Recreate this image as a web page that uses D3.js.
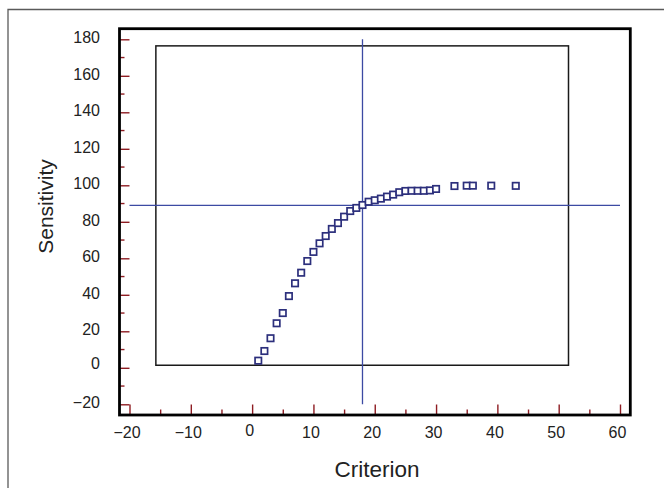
<!DOCTYPE html>
<html>
<head>
<meta charset="utf-8">
<script src="https://cdn.jsdelivr.net/npm/d3@7"></script>
<style>
  html, body { margin: 0; padding: 0; background: #fff; }
  svg { display: block; }
  text { font-family: "Liberation Sans", Arial, Helvetica, sans-serif; fill: #222; }
</style>
</head>
<body>
<svg id="chart" width="664" height="488"></svg>
<script>
// ---- data ----
const criterion = [1, 2, 3, 4, 5, 6, 7, 8, 9, 10, 11, 12, 13, 14, 15, 16, 17, 18, 19, 20,
                   21, 22, 23, 24, 25, 26, 27, 28, 29, 30, 33, 35, 36, 39, 43];
const sensitivity = [3.9, 9.2, 16.2, 24.4, 30.0, 39.3, 46.3, 52.1, 58.5, 63.5, 68.2, 72.2,
                     76.1, 79.3, 82.8, 85.9, 87.6, 89.2, 91.0, 91.8, 92.7, 93.8, 94.9, 96.2,
                     96.9, 97.0, 97.0, 97.0, 97.2, 98.0, 99.6, 99.8, 99.8, 99.8, 99.7];
const xTickValues = [-20, -10, 0, 10, 20, 30, 40, 50, 60];
const xMinorTicks = [-15, -5, 5, 15, 25, 35, 45, 55];
const yTickValues = [-20, 0, 20, 40, 60, 80, 100, 120, 140, 160, 180];
const yMinorTicks = [-10, 10, 30, 50, 70, 90, 110, 130, 150, 170];
const cutoffCriterion = 18;     // vertical reference line
const cutoffSensitivity = 89;   // horizontal reference line
const innerBoxX = [-15.7, 51.6];
const innerBoxY = [1.4, 176.4];
const xTitle = "Criterion";
const yTitle = "Sensitivity";

// ---- layout ----
const svg = d3.select("#chart");
const frame = { left: 119.5, top: 28.7, right: 630.3, bottom: 415 };
const x = d3.scaleLinear().domain([-20, 60]).range([129.5, 620]);
const y = d3.scaleLinear().domain([-20, 180]).range([404.3, 39.3]);
const tickRed = "#8e1c22";
const crossBlue = "#3c4aa3";
const markNavy = "#2c2f7c";

// outer border (top and left only visible)
svg.append("path")
  .attr("d", `M8,488 L8,9.5 L664,9.5`)
  .attr("fill", "none").attr("stroke", "#5a5a5a").attr("stroke-width", 1.3);

// inner box
svg.append("rect")
  .attr("x", x(innerBoxX[0])).attr("y", y(innerBoxY[1]))
  .attr("width", x(innerBoxX[1]) - x(innerBoxX[0]))
  .attr("height", y(innerBoxY[0]) - y(innerBoxY[1]))
  .attr("fill", "none").attr("stroke", "#1a1a1a").attr("stroke-width", 1.5);

// crosshair
svg.append("line")
  .attr("x1", x(cutoffCriterion)).attr("x2", x(cutoffCriterion))
  .attr("y1", y(180)).attr("y2", y(-20))
  .attr("stroke", crossBlue).attr("stroke-width", 1.3);
svg.append("line")
  .attr("x1", x(-20)).attr("x2", x(60))
  .attr("y1", y(cutoffSensitivity)).attr("y2", y(cutoffSensitivity))
  .attr("stroke", crossBlue).attr("stroke-width", 1.3);

// x axis (ticks pointing up inside the frame)
const xAxisG = svg.append("g").attr("transform", `translate(0,${frame.bottom})`)
  .call(d3.axisBottom(x).tickValues(xTickValues).tickSize(-10.5).tickPadding(12)
        .tickFormat(d => d < 0 ? "\u2212" + Math.abs(d) : String(d)));
xAxisG.select(".domain").remove();
xAxisG.selectAll(".tick line").attr("stroke", tickRed).attr("stroke-width", 1.4);
xAxisG.selectAll(".tick text")
  .attr("fill", "#161616").style("font-size", "16px")
  .attr("dx", -3)
  .attr("dy", d => d === 0 ? "0.56em" : "0.71em");
svg.append("g").attr("transform", `translate(0,${frame.bottom})`)
  .selectAll("line").data(xMinorTicks).join("line")
  .attr("x1", d => x(d) + 0.5).attr("x2", d => x(d) + 0.5)
  .attr("y1", 0).attr("y2", -5.5)
  .attr("stroke", tickRed).attr("stroke-width", 1.4);

// y axis (ticks pointing right inside the frame)
const yAxisG = svg.append("g").attr("transform", `translate(${frame.left},0)`)
  .call(d3.axisLeft(y).tickValues(yTickValues).tickSize(-10).tickPadding(19.5)
        .tickFormat(d => d < 0 ? "\u2212" + Math.abs(d) : String(d)));
yAxisG.select(".domain").remove();
yAxisG.selectAll(".tick line").attr("stroke", tickRed).attr("stroke-width", 1.4);
yAxisG.selectAll(".tick text")
  .attr("fill", "#161616").style("font-size", "16px")
  .attr("dy", d => d === 0 ? "0.04em" : "0.2em");
svg.append("g").attr("transform", `translate(${frame.left},0)`)
  .selectAll("line").data(yMinorTicks).join("line")
  .attr("x1", 0).attr("x2", 5)
  .attr("y1", d => y(d)).attr("y2", d => y(d))
  .attr("stroke", tickRed).attr("stroke-width", 1.4);

// thick plot frame
svg.append("rect")
  .attr("x", frame.left).attr("y", frame.top)
  .attr("width", frame.right - frame.left).attr("height", frame.bottom - frame.top)
  .attr("fill", "none").attr("stroke", "#000").attr("stroke-width", 2.8);

// points (open squares)
const pts = criterion.map((c, i) => ({ c, s: sensitivity[i] }));
const sq = 6.4;
svg.append("g").selectAll("rect").data(pts).join("rect")
  .attr("x", d => x(d.c) - sq / 2).attr("y", d => y(d.s) - sq / 2)
  .attr("width", sq).attr("height", sq)
  .attr("fill", "#fff").attr("stroke", markNavy).attr("stroke-width", 1.7);

// titles
svg.append("text")
  .attr("x", 377).attr("y", 476.5)
  .attr("text-anchor", "middle")
  .style("font-size", "22.5px").attr("fill", "#222")
  .text(xTitle);
svg.append("text")
  .attr("transform", "translate(52.5,206.5) rotate(-90)")
  .attr("text-anchor", "middle")
  .style("font-size", "21px").attr("fill", "#222")
  .text(yTitle);
</script>
</body>
</html>
